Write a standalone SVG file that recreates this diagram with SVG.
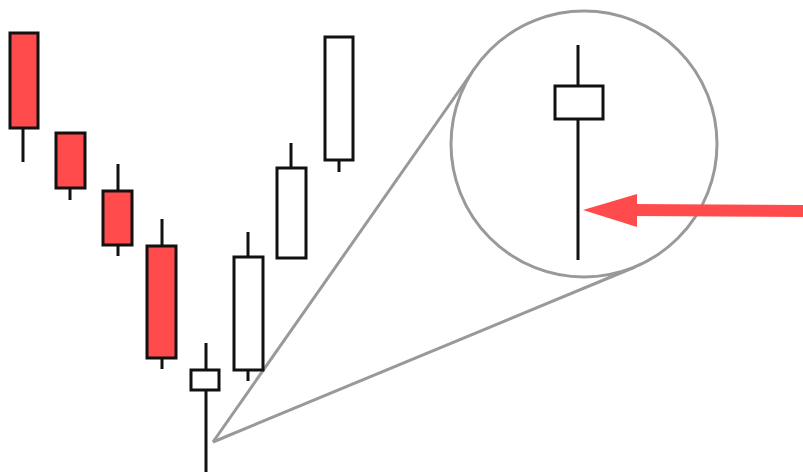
<svg xmlns="http://www.w3.org/2000/svg" width="803" height="472" viewBox="0 0 803 472">
<style>
.w{stroke:#111;stroke-width:3;fill:none}
.bear{fill:#ff4b4b;stroke:#111;stroke-width:3}
.bull{fill:#fff;stroke:#111;stroke-width:3}
.zoom{fill:none;stroke:#999;stroke-width:3}
</style>
<rect width="803" height="472" fill="#fff"/>
<g id="zoom-cone">
<line class="zoom" x1="213" y1="442" x2="475" y2="68"/>
<line class="zoom" x1="213" y1="442" x2="635" y2="267"/>
<circle class="zoom" cx="584" cy="144" r="133" fill="#fff" style="fill:#fff"/>
</g>
<g id="c1"><line class="w" x1="23" y1="128" x2="23" y2="162"/><rect class="bear" x="10" y="33" width="28" height="95"/></g>
<g id="c2"><line class="w" x1="70" y1="188" x2="70" y2="200"/><rect class="bear" x="56" y="133" width="29" height="55"/></g>
<g id="c3"><line class="w" x1="118" y1="164" x2="118" y2="256"/><rect class="bear" x="103" y="191" width="29" height="54"/></g>
<g id="c4"><line class="w" x1="162" y1="219" x2="162" y2="369"/><rect class="bear" x="147" y="246" width="29" height="112"/></g>
<g id="c5"><line class="w" x1="206" y1="343" x2="206" y2="472"/><rect class="bull" x="191" y="370" width="28" height="20"/></g>
<g id="c6"><line class="w" x1="248" y1="232" x2="248" y2="381"/><rect class="bull" x="234" y="257" width="29" height="113"/></g>
<g id="c7"><line class="w" x1="291" y1="143" x2="291" y2="258"/><rect class="bull" x="277" y="168" width="29" height="90"/></g>
<g id="c8"><line class="w" x1="339" y1="160" x2="339" y2="172"/><rect class="bull" x="325" y="37" width="28" height="123"/></g>
<g id="zoomed-candle"><line class="w" x1="578" y1="45" x2="578" y2="260"/><rect class="bull" x="555" y="86" width="48" height="33"/></g>
<g id="connectors">
<line x1="803" y1="211" x2="630" y2="210" stroke="#ff4b4b" stroke-width="12"/>
<polygon points="583,210 637,194 637,227" fill="#ff4b4b"/>
</g>
</svg>
